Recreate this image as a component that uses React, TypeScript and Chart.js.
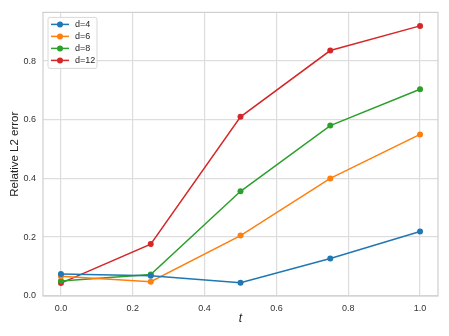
import React, { useEffect, useRef } from "react";
import { Chart, registerables } from "chart.js";

Chart.register(...registerables);

const tValues = [0.0, 0.25, 0.5, 0.75, 1.0];
const seriesLabels = ["d=4", "d=6", "d=8", "d=12"];
const d4 = [0.074, 0.068, 0.044, 0.127, 0.219];
const d6 = [0.066, 0.048, 0.205, 0.4, 0.55];
const d8 = [0.05, 0.072, 0.356, 0.58, 0.704];
const d12 = [0.043, 0.176, 0.61, 0.836, 0.92];
const seriesColors = ["#1f77b4", "#ff7f0e", "#2ca02c", "#d62728"];
const xTicks = [0, 0.2, 0.4, 0.6, 0.8, 1.0];
const yTicks = [0, 0.2, 0.4, 0.6, 0.8];

const FONT = "'Liberation Sans', Arial, sans-serif";

const frameAndLegend = {
  id: "frameAndLegend",
  afterDraw(chart: any) {
    const { ctx, chartArea } = chart;
    const { left, right, top, bottom } = chartArea;
    ctx.save();
    ctx.strokeStyle = "#cfcfcf";
    ctx.lineWidth = 1.2;
    ctx.strokeRect(left, top, right - left, bottom - top);

    // legend
    const bx = left + 5;
    const by = top + 5;
    const bw = 49;
    const bh = 51;
    ctx.fillStyle = "rgba(255,255,255,0.85)";
    ctx.strokeStyle = "#d8d8d8";
    ctx.lineWidth = 1;
    ctx.beginPath();
    (ctx as any).roundRect(bx, by, bw, bh, 2);
    ctx.fill();
    ctx.stroke();
    ctx.font = `9px ${FONT}`;
    ctx.textBaseline = "middle";
    ctx.textAlign = "left";
    chart.data.datasets.forEach((ds: any, i: number) => {
      const y = by + 7 + i * 12;
      ctx.strokeStyle = ds.borderColor;
      ctx.lineWidth = 1.5;
      ctx.beginPath();
      ctx.moveTo(bx + 3, y);
      ctx.lineTo(bx + 21, y);
      ctx.stroke();
      ctx.fillStyle = ds.borderColor;
      ctx.beginPath();
      ctx.arc(bx + 12, y, 3, 0, Math.PI * 2);
      ctx.fill();
      ctx.fillStyle = "#262626";
      ctx.fillText(ds.label, bx + 27, y + 0.5);
    });
    ctx.restore();
  },
};

export default function App() {
  const ref = useRef<HTMLCanvasElement | null>(null);
  useEffect(() => {
    document.body.style.margin = "0";
    const all = [d4, d6, d8, d12];
    const chart = new Chart(ref.current!, {
      type: "line",
      data: {
        datasets: all.map((vals, i) => ({
          label: seriesLabels[i],
          data: tValues.map((t, j) => ({ x: t, y: vals[j] })),
          borderColor: seriesColors[i],
          backgroundColor: seriesColors[i],
          borderWidth: 1.5,
          pointRadius: 3,
          pointBorderWidth: 0,
          pointHoverRadius: 3,
          fill: false,
          tension: 0,
        })),
      },
      options: {
        animation: false,
        responsive: false,
        maintainAspectRatio: false,
        layout: { padding: { top: 9, right: 11, left: 0, bottom: 0 } },
        plugins: {
          legend: { display: false },
          tooltip: { enabled: false },
        },
        scales: {
          x: {
            type: "linear",
            min: -0.05,
            max: 1.05,
            afterBuildTicks: (s: any) => {
              s.ticks = xTicks.map((v) => ({ value: v }));
            },
            afterFit: (s: any) => {
              s.height = 40;
            },
            grid: { color: "#dddddd", lineWidth: 1.2, drawTicks: false },
            border: { display: false },
            ticks: {
              padding: 7,
              color: "#333333",
              font: { family: FONT, size: 9 },
              callback: (v: any) => Number(v).toFixed(1),
            },
            title: {
              display: true,
              text: "t",
              color: "#222222",
              font: { family: FONT, size: 12, style: "italic" },
              padding: { top: 2, bottom: 10 },
            },
          },
          y: {
            type: "linear",
            min: -0.001,
            max: 0.966,
            afterBuildTicks: (s: any) => {
              s.ticks = yTicks.map((v) => ({ value: v }));
            },
            afterFit: (s: any) => {
              s.width = 43;
            },
            grid: { color: "#dddddd", lineWidth: 1.2, drawTicks: false },
            border: { display: false },
            ticks: {
              padding: 7,
              color: "#333333",
              font: { family: FONT, size: 9 },
              callback: (v: any) => Number(v).toFixed(1),
            },
            title: {
              display: true,
              text: "Relative L2 error",
              color: "#222222",
              font: { family: FONT, size: 11.5 },
              padding: { top: 8, bottom: 0 },
            },
          },
        },
      },
      plugins: [frameAndLegend],
    } as any);
    return () => chart.destroy();
  }, []);
  return (
    <div style={{ width: 449, height: 336, background: "#ffffff" }}>
      <canvas ref={ref} width={449} height={336} style={{ display: "block" }} />
    </div>
  );
}
